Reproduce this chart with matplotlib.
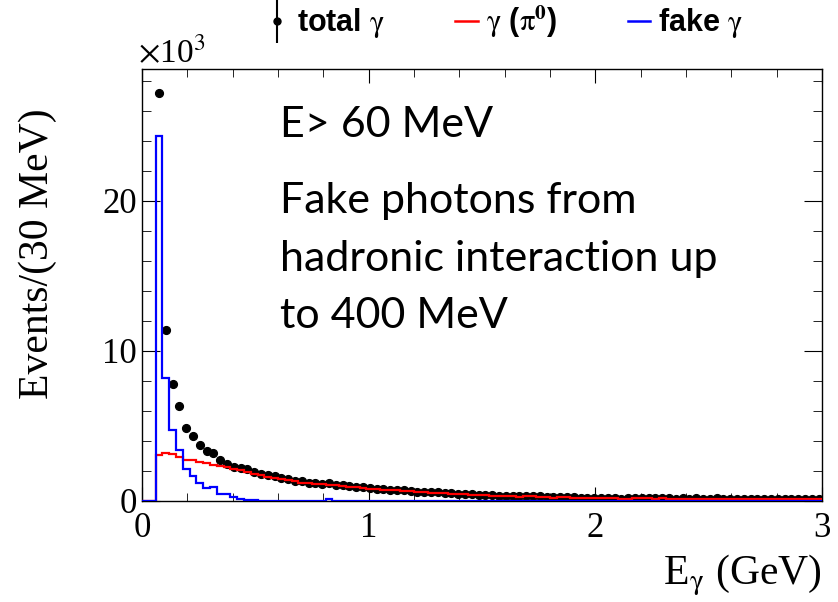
import numpy as np
import matplotlib
matplotlib.use('Agg')
import matplotlib.pyplot as plt
from matplotlib.lines import Line2D
from matplotlib.legend_handler import HandlerTuple
from matplotlib.ticker import MultipleLocator

# Data: 100 bins of 30 MeV from 0 to 3 GeV, counts in units of 10^3
bin_width = 0.03
n_bins = 100

pi0_gamma = [
    0.00, 0.00, 3.05, 3.20, 3.10, 2.95, 2.75, 2.70, 2.62, 2.55,
    2.42, 2.32, 2.25, 2.12, 2.05, 1.93, 1.83, 1.73, 1.63, 1.55,
    1.45, 1.38, 1.30, 1.22, 1.18, 1.12, 1.10, 1.08, 1.04, 1.00,
    0.95, 0.92, 0.88, 0.82, 0.78, 0.73, 0.72, 0.70, 0.68, 0.64,
    0.60, 0.58, 0.56, 0.55, 0.50, 0.48, 0.46, 0.44, 0.43, 0.40,
    0.38, 0.36, 0.33, 0.32, 0.30, 0.28, 0.30, 0.31, 0.28, 0.26,
    0.22, 0.28, 0.27, 0.22, 0.22, 0.21, 0.21, 0.20, 0.19, 0.18,
    0.15, 0.16, 0.20, 0.17, 0.17, 0.16, 0.17, 0.16, 0.15, 0.16,
    0.15, 0.16, 0.15, 0.14, 0.16, 0.15, 0.14, 0.15, 0.14, 0.15,
    0.14, 0.15, 0.14, 0.13, 0.14, 0.15, 0.14, 0.13, 0.14, 0.13,
]

fake_gamma = [
    0.00, 0.00, 24.3, 8.20, 4.75, 3.40, 2.10, 1.67, 1.20, 0.85,
    0.90, 0.48, 0.45, 0.25, 0.10, 0.06, 0.04, 0.03, 0.03, 0.02,
    0.02, 0.02, 0.01, 0.01, 0.01, 0.01, 0.01, 0.12, 0.01, 0.01,
    0.01, 0.01, 0.01, 0.01, 0.01, 0.01, 0.01, 0.01, 0.01, 0.01,
    0.01, 0.01, 0.01, 0.01, 0.01, 0.01, 0.01, 0.01, 0.01, 0.01,
    0.01, 0.01, 0.01, 0.01, 0.01, 0.01, 0.01, 0.01, 0.01, 0.01,
    0.01, 0.01, 0.01, 0.01, 0.01, 0.01, 0.01, 0.01, 0.01, 0.01,
    0.01, 0.01, 0.01, 0.01, 0.01, 0.01, 0.01, 0.01, 0.01, 0.01,
    0.01, 0.01, 0.01, 0.01, 0.01, 0.01, 0.01, 0.01, 0.01, 0.01,
    0.01, 0.01, 0.01, 0.01, 0.01, 0.01, 0.01, 0.01, 0.01, 0.01,
]

total_gamma = [
    np.nan, np.nan, 27.2, 11.4, 7.80, 6.30, 4.85, 4.35, 3.73, 3.35,
    3.20, 2.73, 2.45, 2.27, 2.23, 2.10, 1.93, 1.83, 1.73, 1.67,
    1.52, 1.45, 1.35, 1.30, 1.22, 1.18, 1.15, 1.18, 1.08, 1.04,
    0.99, 0.96, 0.92, 0.86, 0.82, 0.78, 0.75, 0.73, 0.71, 0.66,
    0.63, 0.60, 0.58, 0.57, 0.52, 0.50, 0.47, 0.46, 0.44, 0.42,
    0.40, 0.37, 0.35, 0.33, 0.31, 0.30, 0.31, 0.33, 0.30, 0.27,
    0.24, 0.29, 0.28, 0.24, 0.23, 0.22, 0.22, 0.21, 0.20, 0.19,
    0.16, 0.17, 0.21, 0.18, 0.18, 0.17, 0.18, 0.17, 0.16, 0.17,
    0.16, 0.17, 0.16, 0.15, 0.17, 0.16, 0.15, 0.16, 0.15, 0.16,
    0.15, 0.16, 0.15, 0.14, 0.15, 0.16, 0.15, 0.14, 0.15, 0.14,
]

edges = np.arange(n_bins + 1) * bin_width
centers = edges[:-1] + bin_width / 2

# Style
plt.rcParams['font.family'] = ['Liberation Serif', 'DejaVu Serif']
plt.rcParams['mathtext.fontset'] = 'stix'

fig = plt.figure(figsize=(8.38, 6.02), dpi=100)
ax = fig.add_axes([0.1695, 0.1678, 0.8115, 0.7176])

ax.plot(centers, total_gamma, 'o', color='black', markersize=5.6, zorder=2)
ax.stairs(pi0_gamma, edges, color='red', linewidth=1.6, zorder=3)
ax.stairs(fake_gamma, edges, color='blue', linewidth=1.6, zorder=4)

ax.set_xlim(0, 3)
ax.set_ylim(0, 28.8)

ax.xaxis.set_major_locator(MultipleLocator(1))
ax.xaxis.set_minor_locator(MultipleLocator(0.2))
ax.yaxis.set_major_locator(MultipleLocator(10))
ax.yaxis.set_minor_locator(MultipleLocator(2))

ax.tick_params(which='both', direction='in', top=True, right=True, labelsize=25)
ax.tick_params(axis='y', which='major', length=13, pad=3.5)
ax.tick_params(axis='y', which='minor', length=6.5)
ax.tick_params(axis='x', which='major', length=10, pad=8)
ax.tick_params(axis='x', which='minor', length=5.5)
for s in ax.spines.values():
    s.set_linewidth(1.0)

# axis titles (ROOT style, aligned to the end)
fig.text(38 / 838, 1 - 108 / 602, 'Events/(30 MeV)', rotation=90,
         ha='center', va='top', fontsize=30)
fig.text(822 / 838, 1 - 584 / 602, r'E$_{\mathrm{\gamma}}$ (GeV)',
         ha='right', va='baseline', fontsize=30)
fig.text(138 / 838, 1 - 63 / 602, r'$\times$10$^{3}$',
         ha='left', va='baseline', fontsize=24)

# annotations
note_font = dict(family=['Lato', 'DejaVu Sans'], fontsize=31, color='black')
fig.text(280 / 838, 1 - 137 / 602, 'E> 60 MeV', va='baseline', **note_font)
fig.text(280 / 838, 1 - 213 / 602, 'Fake photons from', va='baseline', **note_font)
fig.text(280 / 838, 1 - 271 / 602, 'hadronic interaction up', va='baseline', **note_font)
fig.text(280 / 838, 1 - 328 / 602, 'to 400 MeV', va='baseline', **note_font)

# legend above the frame
h_total = (Line2D([], [], marker='|', markersize=32, color='black', linestyle='none',
                  markeredgewidth=1.5),
           Line2D([], [], marker='o', markersize=5, color='black', linestyle='none'))
h_pi0 = Line2D([], [], color='red', linewidth=1.8)
h_fake = Line2D([], [], color='blue', linewidth=1.8)
leg = fig.legend([h_total, h_pi0, h_fake],
                 [r'total $\mathrm{\gamma}$', r'$\mathrm{\gamma}$ ($\mathrm{\pi}^{\mathbf{0}}$)',
                  r'fake $\mathrm{\gamma}$'],
                 handler_map={tuple: HandlerTuple(ndivide=1)},
                 loc='center left', bbox_to_anchor=(266 / 838, 1 - 22 / 602),
                 ncol=3, frameon=False, borderpad=0, borderaxespad=0,
                 handlelength=0.75, handletextpad=0.25, columnspacing=2.3,
                 prop=dict(family=['Liberation Sans', 'DejaVu Sans'], weight='bold', size=22))

fig.savefig('out.png', dpi=100)
